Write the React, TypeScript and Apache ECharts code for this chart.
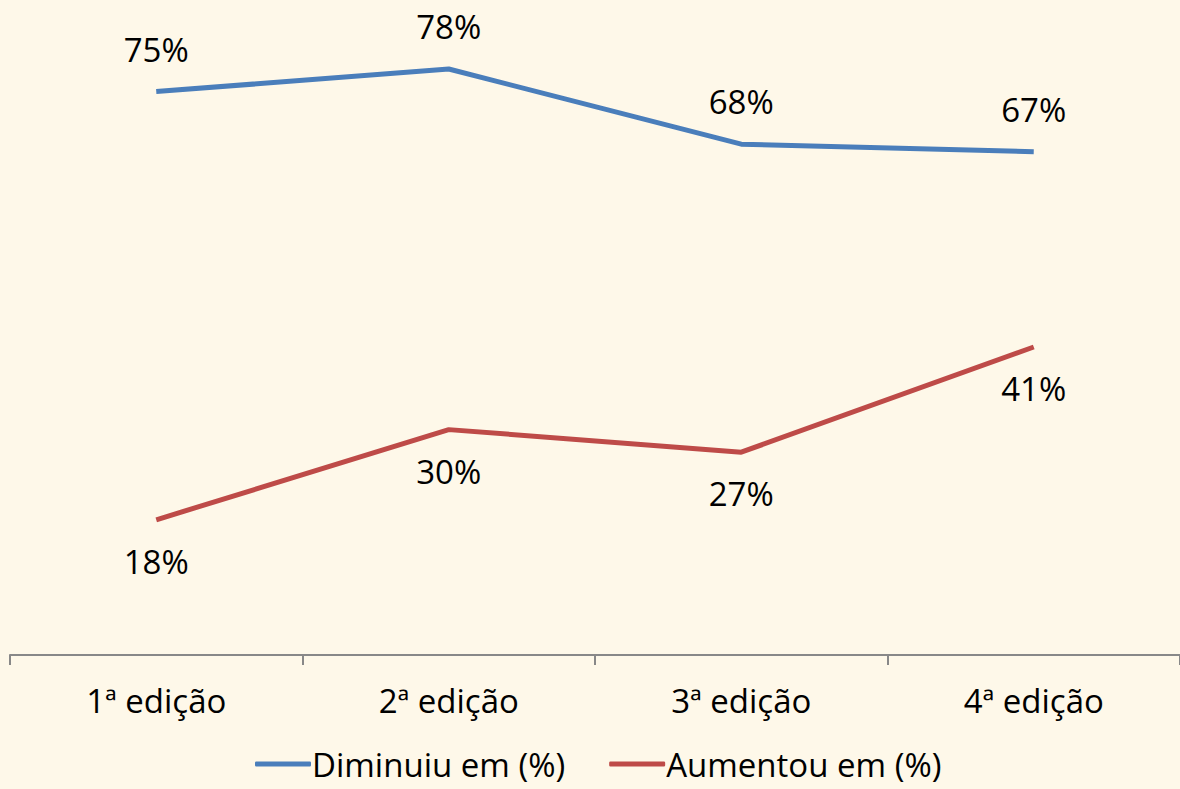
import React, { useEffect, useRef } from "react";
import * as echarts from "echarts";

const categories = ["1ª edição", "2ª edição", "3ª edição", "4ª edição"];
const diminuiu = [75, 78, 68, 67];
const aumentou = [18, 30, 27, 41];
const seriesNames = ["Diminuiu em (%)", "Aumentou em (%)"];

const FONT = "'Open Sans', 'Noto Sans', sans-serif";
const FS = 33;

export default function App() {
  const ref = useRef<HTMLDivElement>(null);
  useEffect(() => {
    const chart = echarts.init(ref.current!, null, { renderer: "svg" });
    const label = (pos: string, dist: number) => ({
      show: true,
      position: pos,
      distance: dist,
      formatter: "{c}%",
      fontSize: FS,
      fontFamily: FONT,
      color: "#000",
    });
    chart.setOption({
      animation: false,
      backgroundColor: "#FEF8E9",
      textStyle: { fontFamily: FONT },
      grid: { left: 10, right: -2, top: 54, bottom: 134, containLabel: false },
      legend: {
        left: 250,
        top: 742,
        itemWidth: 56,
        itemHeight: 5,
        itemGap: 44,
        icon: "roundRect",
        textStyle: { fontFamily: FONT, fontSize: FS, lineHeight: 34, color: "#000", padding: [0, 0, 0, -4] },
        data: seriesNames,
      },
      xAxis: {
        type: "category",
        data: categories,
        boundaryGap: true,
        axisLine: { show: true, lineStyle: { color: "#888888", width: 2 } },
        axisTick: { show: true, length: 10, alignWithLabel: false, lineStyle: { color: "#888888", width: 2 } },
        axisLabel: { color: "#000", fontSize: FS, fontFamily: FONT, margin: 29 },
        splitLine: { show: false },
      },
      yAxis: {
        type: "value",
        min: 0,
        max: 80,
        show: false,
        splitLine: { show: false },
      },
      series: [
        {
          name: seriesNames[0],
          type: "line",
          data: diminuiu,
          color: "#4A7EBB",
          lineStyle: { width: 5, color: "#4A7EBB" },
          symbol: "circle",
          symbolSize: 0,
          showSymbol: true,
          label: label("top", 26),
        },
        {
          name: seriesNames[1],
          type: "line",
          data: aumentou,
          color: "#BE4B48",
          lineStyle: { width: 5, color: "#BE4B48" },
          symbol: "circle",
          symbolSize: 0,
          showSymbol: true,
          label: label("bottom", 25),
        },
      ],
    });
    return () => chart.dispose();
  }, []);
  return (
    <div style={{ position: "fixed", left: 0, top: 0, width: 1180, height: 789, overflow: "hidden", background: "#FEF8E9" }}>
      <div ref={ref} style={{ width: 1180, height: 789 }} />
    </div>
  );
}
